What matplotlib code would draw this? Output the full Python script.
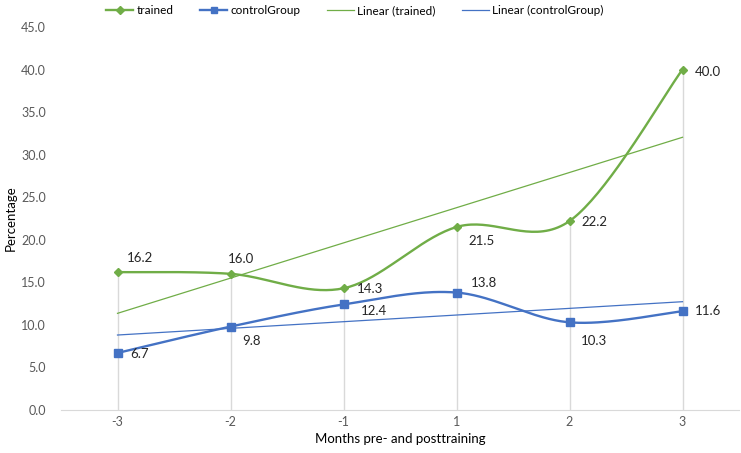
import numpy as np
import matplotlib
matplotlib.use("Agg")
import matplotlib.pyplot as plt

plt.rcParams["font.family"] = ["Lato", "DejaVu Sans"]

months = ["-3", "-2", "-1", "1", "2", "3"]
trained = [16.2, 16.0, 14.3, 21.5, 22.2, 40.0]
control = [6.7, 9.8, 12.4, 13.8, 10.3, 11.6]

# label offsets in pixels from the point (dx to left edge, dy up)
trained_offsets = [(9, 14), (-3, 15), (13, -1), (12, -14), (12, -1), (12, -2)]
control_offsets = [(13, -1), (12, -14), (17, -7), (14, 10), (11, -19), (12, 0)]

GREEN = "#70AD47"
BLUE = "#4472C4"
GRAY_TXT = "#595959"


def smooth(y, n=40):
    """Excel-like smoothed line (Catmull-Rom)."""
    x = np.arange(len(y), dtype=float)
    y = np.asarray(y, dtype=float)
    px = np.concatenate([[x[0]], x, [x[-1]]])
    py = np.concatenate([[y[0]], y, [y[-1]]])
    xs, ys = [], []
    for i in range(1, len(px) - 2):
        p0, p1, p2, p3 = (np.array([px[j], py[j]]) for j in (i - 1, i, i + 1, i + 2))
        c1 = p1 + (p2 - p0) / 6
        c2 = p2 - (p3 - p1) / 6
        t = np.linspace(0, 1, n)[:, None]
        b = (1 - t) ** 3 * p1 + 3 * (1 - t) ** 2 * t * c1 + 3 * (1 - t) * t ** 2 * c2 + t ** 3 * p2
        xs.append(b[:, 0])
        ys.append(b[:, 1])
    return np.concatenate(xs), np.concatenate(ys)


fig = plt.figure(figsize=(7.41, 4.53), dpi=100)
ax = fig.add_axes([61 / 741, 1 - 410 / 453, 678 / 741, 383 / 453])

x = np.arange(len(months))

# drop lines
for xi, a, b in zip(x, trained, control):
    ax.plot([xi, xi], [0, max(a, b)], color="#D9D9D9", lw=1, zorder=1)

# trend lines
for vals, col in [(trained, GREEN), (control, BLUE)]:
    k, c = np.polyfit(x + 1, vals, 1)
    ax.plot(x, k * (x + 1) + c, color=col, lw=0.9, zorder=2)

sx, sy = smooth(trained)
ax.plot(sx, sy, color=GREEN, lw=1.7, zorder=3)
ax.plot(x, trained, ls="none", marker="D", ms=4.5, color=GREEN, zorder=4)
sx, sy = smooth(control)
ax.plot(sx, sy, color=BLUE, lw=1.7, zorder=3)
ax.plot(x, control, ls="none", marker="s", ms=5.5, color=BLUE, zorder=4)

for vals, offsets in [(trained, trained_offsets), (control, control_offsets)]:
    for xi, v, (dx, dy) in zip(x, vals, offsets):
        ax.annotate(f"{v:.1f}", (xi, v), xytext=(dx, dy), textcoords="offset pixels",
                    ha="left", va="center", fontsize=9.5, color="#262626")

ax.set_xlim(-0.5, len(months) - 0.5)
ax.set_ylim(0, 45)
ax.set_yticks(np.arange(0, 45.1, 5))
ax.set_yticklabels([f"{v:.1f}" for v in np.arange(0, 45.1, 5)])
ax.set_xticks(x)
ax.set_xticklabels(months)
ax.tick_params(axis="both", length=0, colors=GRAY_TXT, labelsize=9)
ax.tick_params(axis="y", pad=11)
ax.tick_params(axis="x", pad=4)
for s in ("top", "right", "left"):
    ax.spines[s].set_visible(False)
ax.spines["bottom"].set_color("#D9D9D9")
ax.set_xlabel("Months pre- and posttraining", fontsize=9.5, labelpad=4)
ax.set_ylabel("Percentage", fontsize=9.5)
ax.yaxis.set_label_coords(-44 / 678, 0.5)

handles = [
    plt.Line2D([], [], color=GREEN, lw=1.7, marker="D", ms=4),
    plt.Line2D([], [], color=BLUE, lw=1.7, marker="s", ms=5),
    plt.Line2D([], [], color=GREEN, lw=0.9),
    plt.Line2D([], [], color=BLUE, lw=0.9),
]
fig.legend(handles, ["trained", "controlGroup", "Linear (trained)", "Linear (controlGroup)"],
           loc="upper center", bbox_to_anchor=(355 / 741, 1.012), ncol=4, frameon=False,
           fontsize=8.5, handlelength=2.3, columnspacing=2.2, handletextpad=0.3)

fig.savefig("out.png", dpi=100)
